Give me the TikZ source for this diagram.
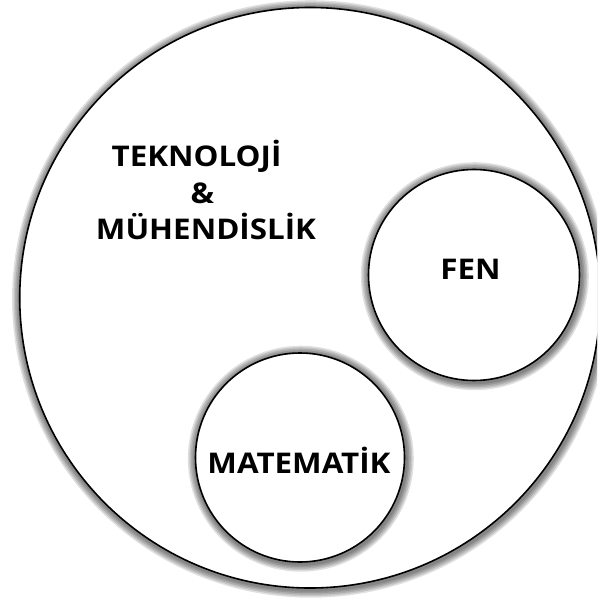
\documentclass[tikz,border=0pt]{standalone}
\usepackage{graphicx}
\usepackage{fontspec}
\setmainfont{Open Sans}
\newcommand{\widetext}[1]{\scalebox{1.1}[1]{#1}}
\begin{document}
\begin{tikzpicture}[x=1pt,y=-1pt,
  glow/.style={
    preaction={draw=black,draw opacity=0.12,line width=17pt,transform canvas={xshift=0.8pt,yshift=-1.2pt}},
    preaction={draw=black,draw opacity=0.12,line width=14pt,transform canvas={xshift=0.8pt,yshift=-1.2pt}},
    preaction={draw=black,draw opacity=0.12,line width=11pt,transform canvas={xshift=0.8pt,yshift=-1.2pt}},
    preaction={draw=black,draw opacity=0.12,line width=8pt,transform canvas={xshift=0.8pt,yshift=-1.2pt}},
    preaction={draw=black,draw opacity=0.12,line width=5pt,transform canvas={xshift=0.8pt,yshift=-1.2pt}}},
  ring/.style={circle,glow,draw=black,fill=white,line width=1.6pt,inner sep=0pt,outer sep=0pt},
  lbl/.style={font=\bfseries\fontsize{28.5}{28.5}\selectfont,anchor=base,inner sep=0pt,text=black}
]
\useasboundingbox (0,0) rectangle (597,601);
\clip (0,0) rectangle (597,601);
\node[ring,minimum size=580.5pt] (big) at (310,297.75) {};
\node[ring,minimum size=211pt] (fen) at (474,275) {};
\node[ring,minimum size=209pt] (mat) at (300,457.5) {};
\node[lbl] (t1) at (196.5,166.7) {\widetext{TEKNOLOJİ}};
\node[lbl] (t2) at (202.5,204) {\widetext{\&}};
\node[lbl] (t3) at (206,240) {\widetext{MÜHENDİSLİK}};
\node[lbl] (tf) at (470.5,279) {\widetext{FEN}};
\node[lbl] (tm) at (299,473) {\widetext{MATEMATİK}};
\end{tikzpicture}
\end{document}
